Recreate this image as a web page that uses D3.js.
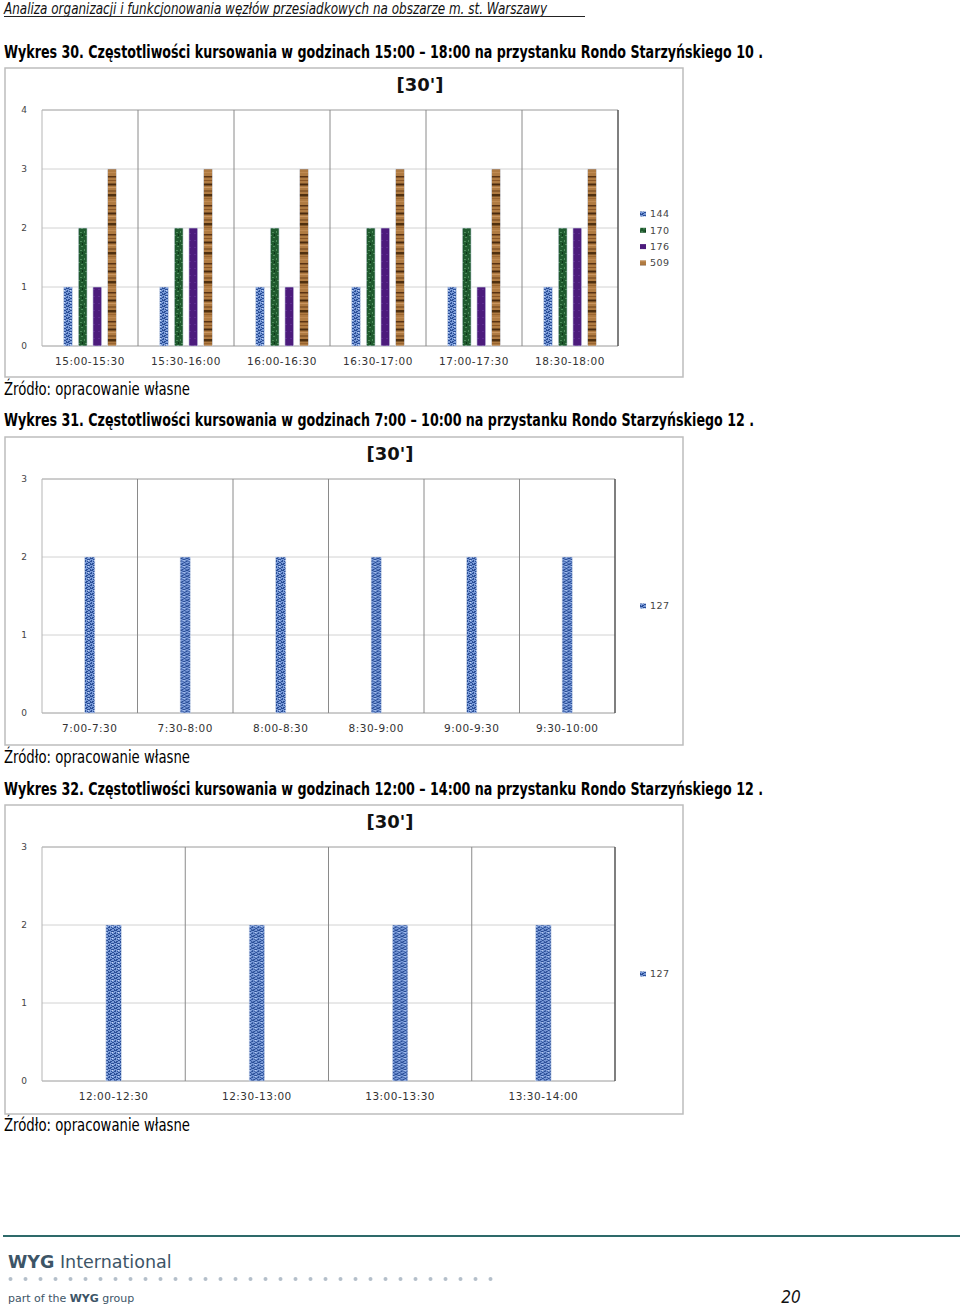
<!DOCTYPE html>
<html>
<head>
<meta charset="utf-8">
<script src="https://cdn.jsdelivr.net/npm/d3@7"></script>
<style>
  body { margin: 0; background: #fff; }
  svg { display: block; }
</style>
</head>
<body>
<div id="page"></div>
<script>
// ---- data ----
var cats1 = ["15:00-15:30", "15:30-16:00", "16:00-16:30", "16:30-17:00", "17:00-17:30", "18:30-18:00"]
var line144 = [1, 1, 1, 1, 1, 1]
var line170 = [2, 2, 2, 2, 2, 2]
var line176 = [1, 2, 1, 2, 1, 2]
var line509 = [3, 3, 3, 3, 3, 3]
var ticks1 = [0, 1, 2, 3, 4]

var cats2 = ["7:00-7:30", "7:30-8:00", "8:00-8:30", "8:30-9:00", "9:00-9:30", "9:30-10:00"]
var line127a = [2, 2, 2, 2, 2, 2]
var ticks2 = [0, 1, 2, 3]

var cats3 = ["12:00-12:30", "12:30-13:00", "13:00-13:30", "13:30-14:00"]
var line127b = [2, 2, 2, 2]
var ticks3 = [0, 1, 2, 3]

var narrow = "'Liberation Sans Narrow', 'DejaVu Sans Condensed', 'Arial Narrow', sans-serif"
var chartFont = "'DejaVu Sans', Verdana, sans-serif"

var svg = d3.select("#page").append("svg")
    .attr("width", 960)
    .attr("height", 1307)

// fill textures, a rough take on the excel ones
var defs = svg.append("defs")

var pBlue = defs.append("pattern").attr("id", "p-blue")
    .attr("patternUnits", "userSpaceOnUse").attr("width", 6).attr("height", 6)
pBlue.append("rect").attr("width", 6).attr("height", 6).attr("fill", "#7a9bd9")
;[[0,0,3,1],[3,1,3,1],[1,2,1,1],[0,3,2,1],[3,3,1,1],[4,4,2,1],[0,5,1,1],[2,5,2,1]].forEach(function(r) {
    pBlue.append("rect").attr("x", r[0]).attr("y", r[1]).attr("width", r[2]).attr("height", r[3]).attr("fill", "#2a4e96")
})
pBlue.append("rect").attr("x", 4).attr("y", 2).attr("width", 1).attr("height", 1).attr("fill", "#c6d6f4")

var pGreen = defs.append("pattern").attr("id", "p-green")
    .attr("patternUnits", "userSpaceOnUse").attr("width", 7).attr("height", 9)
pGreen.append("rect").attr("width", 7).attr("height", 9).attr("fill", "#1f5a2e")
;[[1,1,2,1],[4,3,2,1],[0,6,1,2],[3,7,2,1]].forEach(function(r) {
    pGreen.append("rect").attr("x", r[0]).attr("y", r[1]).attr("width", r[2]).attr("height", r[3]).attr("fill", "#4e8b5c")
})
pGreen.append("rect").attr("x", 5).attr("y", 0).attr("width", 1).attr("height", 2).attr("fill", "#0e3519")

var pPurple = defs.append("pattern").attr("id", "p-purple")
    .attr("patternUnits", "userSpaceOnUse").attr("width", 5).attr("height", 7)
pPurple.append("rect").attr("width", 5).attr("height", 7).attr("fill", "#4c1b7c")
pPurple.append("rect").attr("x", 1).attr("y", 2).attr("width", 2).attr("height", 1).attr("fill", "#5d2c90")

var pBrown = defs.append("pattern").attr("id", "p-brown")
    .attr("patternUnits", "userSpaceOnUse").attr("width", 10).attr("height", 29)
pBrown.append("rect").attr("width", 10).attr("height", 29).attr("fill", "#b07b42")
;[[2, 1.5, "#5a3313"], [6, 1, "#8a5626"], [9.5, 2, "#4a2a0e"], [13, 1, "#c99560"],
  [16.5, 1, "#6b3f18"], [20, 2.5, "#50300f"], [24, 1, "#9a6530"], [27, 1, "#c08a52"]].forEach(function(s) {
    pBrown.append("rect").attr("x", 0).attr("y", s[0]).attr("width", 10).attr("height", s[1]).attr("fill", s[2])
})

// ---- page text ----
svg.append("text")
    .attr("x", 4).attr("y", 14)
    .attr("textLength", 543).attr("lengthAdjust", "spacingAndGlyphs")
    .style("font-family", narrow).style("font-style", "italic").style("font-size", "15px").attr("fill", "#111")
    .text("Analiza organizacji i funkcjonowania węzłów przesiadkowych na obszarze m. st. Warszawy")
svg.append("line").attr("x1", 4).attr("x2", 585).attr("y1", 16.5).attr("y2", 16.5)
    .attr("stroke", "#222").attr("stroke-width", 1)

var headings = [
    {y: 58, w: 759, t: "Wykres 30. Częstotliwości kursowania  w godzinach 15:00 – 18:00 na przystanku Rondo Starzyńskiego 10 ."},
    {y: 426, w: 750, t: "Wykres 31. Częstotliwości kursowania  w godzinach 7:00 – 10:00 na przystanku Rondo Starzyńskiego 12 ."},
    {y: 795, w: 759, t: "Wykres 32. Częstotliwości kursowania  w godzinach 12:00 – 14:00 na przystanku Rondo Starzyńskiego 12 ."}
]
headings.forEach(function(h) {
    svg.append("text")
        .attr("x", 4).attr("y", h.y)
        .attr("textLength", h.w).attr("lengthAdjust", "spacingAndGlyphs")
        .style("font-family", narrow).style("font-weight", "bold").style("font-size", "17px").attr("fill", "#000")
        .text(h.t)
})

;[395, 763, 1131].forEach(function(y) {
    svg.append("text")
        .attr("x", 4).attr("y", y)
        .attr("textLength", 186).attr("lengthAdjust", "spacingAndGlyphs")
        .style("font-family", narrow).style("font-size", "17px").attr("fill", "#000")
        .text("Źródło: opracowanie własne")
})

// ---- one chart ----
function drawChart(cfg) {
    var g = svg.append("g")

    // outer frame
    g.append("rect")
        .attr("x", cfg.box[0]).attr("y", cfg.box[1])
        .attr("width", cfg.box[2]).attr("height", cfg.box[3])
        .attr("fill", "#fff").attr("stroke", "#bdbdbd").attr("stroke-width", 1.5)

    var x0 = d3.scaleBand()
        .domain(cfg.cats)
        .range([cfg.plot[0], cfg.plot[1]])
        .padding(0)
    var y = d3.scaleLinear()
        .domain([0, d3.max(cfg.ticks)])
        .range([cfg.plot[3], cfg.plot[2]])

    var bw = x0.bandwidth()
    var keys = cfg.series.map(function(s) { return s.name })
    var x1 = d3.scaleBand()
        .domain(keys)
        .range([bw * (1 - cfg.groupFrac) / 2, bw * (1 + cfg.groupFrac) / 2])
        .paddingInner(0.4)

    // horizontal grid
    g.selectAll(".hgrid")
        .data(cfg.ticks)
        .enter().append("line")
        .attr("x1", cfg.plot[0]).attr("x2", cfg.plot[1])
        .attr("y1", function(d) { return y(d) }).attr("y2", function(d) { return y(d) })
        .attr("stroke", function(d, i) { return (i == 0 || i == cfg.ticks.length - 1) ? "#9a9a9a" : "#d2d2d2" })
        .attr("stroke-width", 1)

    // vertical separators between categories
    var edges = cfg.cats.map(function(c) { return x0(c) }).concat([cfg.plot[1]])
    g.selectAll(".vgrid")
        .data(edges)
        .enter().append("line")
        .attr("x1", function(d) { return d }).attr("x2", function(d) { return d })
        .attr("y1", y(d3.max(cfg.ticks))).attr("y2", y(0))
        .attr("stroke", function(d, i) { return i == 0 ? "#b5b5b5" : (i == edges.length - 1 ? "#555" : "#8a8a8a") })
        .attr("stroke-width", function(d, i) { return i == edges.length - 1 ? 1.5 : 1 })

    // y tick labels
    g.selectAll(".ytick")
        .data(cfg.ticks)
        .enter().append("text")
        .attr("x", cfg.box[0] + 19).attr("y", function(d) { return y(d) })
        .attr("dy", "0.35em").attr("text-anchor", "middle")
        .style("font-family", chartFont).style("font-size", "9px").attr("fill", "#444")
        .text(function(d) { return d })

    // category labels
    g.selectAll(".xtick")
        .data(cfg.cats)
        .enter().append("text")
        .attr("x", function(d) { return x0(d) + bw / 2 }).attr("y", y(0) + 19)
        .attr("text-anchor", "middle")
        .style("font-family", chartFont).style("font-size", "10.5px").style("letter-spacing", "0.5px").attr("fill", "#333")
        .text(function(d) { return d })

    // bars
    var groups = g.selectAll(".grp")
        .data(cfg.cats)
        .enter().append("g")
        .attr("transform", function(d) { return "translate(" + x0(d) + ",0)" })

    groups.selectAll("rect")
        .data(function(d, i) { return cfg.series.map(function(s) { return {name: s.name, fill: s.fill, value: s.values[i]} }) })
        .enter().append("rect")
        .attr("x", function(d) { return x1(d.name) })
        .attr("width", x1.bandwidth())
        .attr("y", function(d) { return y(d.value) })
        .attr("height", function(d) { return y(0) - y(d.value) })
        .attr("fill", function(d) { return d.fill })
        .attr("stroke", "#d6deec").attr("stroke-width", 0.6)

    // title
    g.append("text")
        .attr("x", cfg.titleX).attr("y", cfg.box[1] + 23)
        .attr("text-anchor", "middle")
        .style("font-family", chartFont).style("font-weight", "bold").style("font-size", "18px").attr("fill", "#111")
        .text("[30']")

    // legend
    var leg = g.selectAll(".leg")
        .data(cfg.series)
        .enter().append("g")
        .attr("transform", function(d, i) { return "translate(640," + (cfg.legendY + i * 16.3) + ")" })
    leg.append("rect")
        .attr("x", 0).attr("y", -2.5).attr("width", 6).attr("height", 5)
        .attr("fill", function(d) { return d.fill })
    leg.append("text")
        .attr("x", 10).attr("dy", "0.35em")
        .style("font-family", chartFont).style("font-size", "9.5px").style("letter-spacing", "0.4px").attr("fill", "#444")
        .text(function(d) { return d.name })
}

drawChart({
    box: [5, 68, 678, 309],
    plot: [42, 618, 110, 346],
    titleX: 420,
    legendY: 214,
    groupFrac: 0.55,
    cats: cats1,
    ticks: ticks1,
    series: [
        {name: "144", values: line144, fill: "url(#p-blue)"},
        {name: "170", values: line170, fill: "url(#p-green)"},
        {name: "176", values: line176, fill: "url(#p-purple)"},
        {name: "509", values: line509, fill: "url(#p-brown)"}
    ]
})

drawChart({
    box: [5, 437, 678, 308],
    plot: [42, 615, 479, 713],
    titleX: 390,
    legendY: 606,
    groupFrac: 0.18,
    cats: cats2,
    ticks: ticks2,
    series: [{name: "127", values: line127a, fill: "url(#p-blue)"}]
})

drawChart({
    box: [5, 805, 678, 309],
    plot: [42, 615, 847, 1081],
    titleX: 390,
    legendY: 974,
    groupFrac: 0.18,
    cats: cats3,
    ticks: ticks3,
    series: [{name: "127", values: line127b, fill: "url(#p-blue)"}]
})

// ---- footer ----
svg.append("line").attr("x1", 3).attr("x2", 960).attr("y1", 1236).attr("y2", 1236)
    .attr("stroke", "#2e6a6a").attr("stroke-width", 2)

var logo = svg.append("text")
    .attr("x", 8).attr("y", 1268)
    .style("font-family", "'DejaVu Sans', Verdana, sans-serif").style("font-size", "17.5px").attr("fill", "#3d5567")
logo.append("tspan").style("font-weight", "bold").text("WYG")
logo.append("tspan").text(" International")

svg.selectAll(".dot")
    .data(d3.range(33))
    .enter().append("circle")
    .attr("cx", function(d) { return 10.5 + d * 15 }).attr("cy", 1279)
    .attr("r", 2).attr("fill", "#b4bfca")

var part = svg.append("text")
    .attr("x", 8).attr("y", 1302)
    .style("font-family", "'DejaVu Sans', Verdana, sans-serif").style("font-size", "11px").attr("fill", "#3d5567")
part.append("tspan").text("part of the ")
part.append("tspan").style("font-weight", "bold").text("WYG")
part.append("tspan").text(" group")

svg.append("text")
    .attr("x", 791).attr("y", 1303).attr("text-anchor", "middle")
    .style("font-family", narrow).style("font-style", "italic").style("font-size", "17px").attr("fill", "#111")
    .text("20")
</script>
</body>
</html>
